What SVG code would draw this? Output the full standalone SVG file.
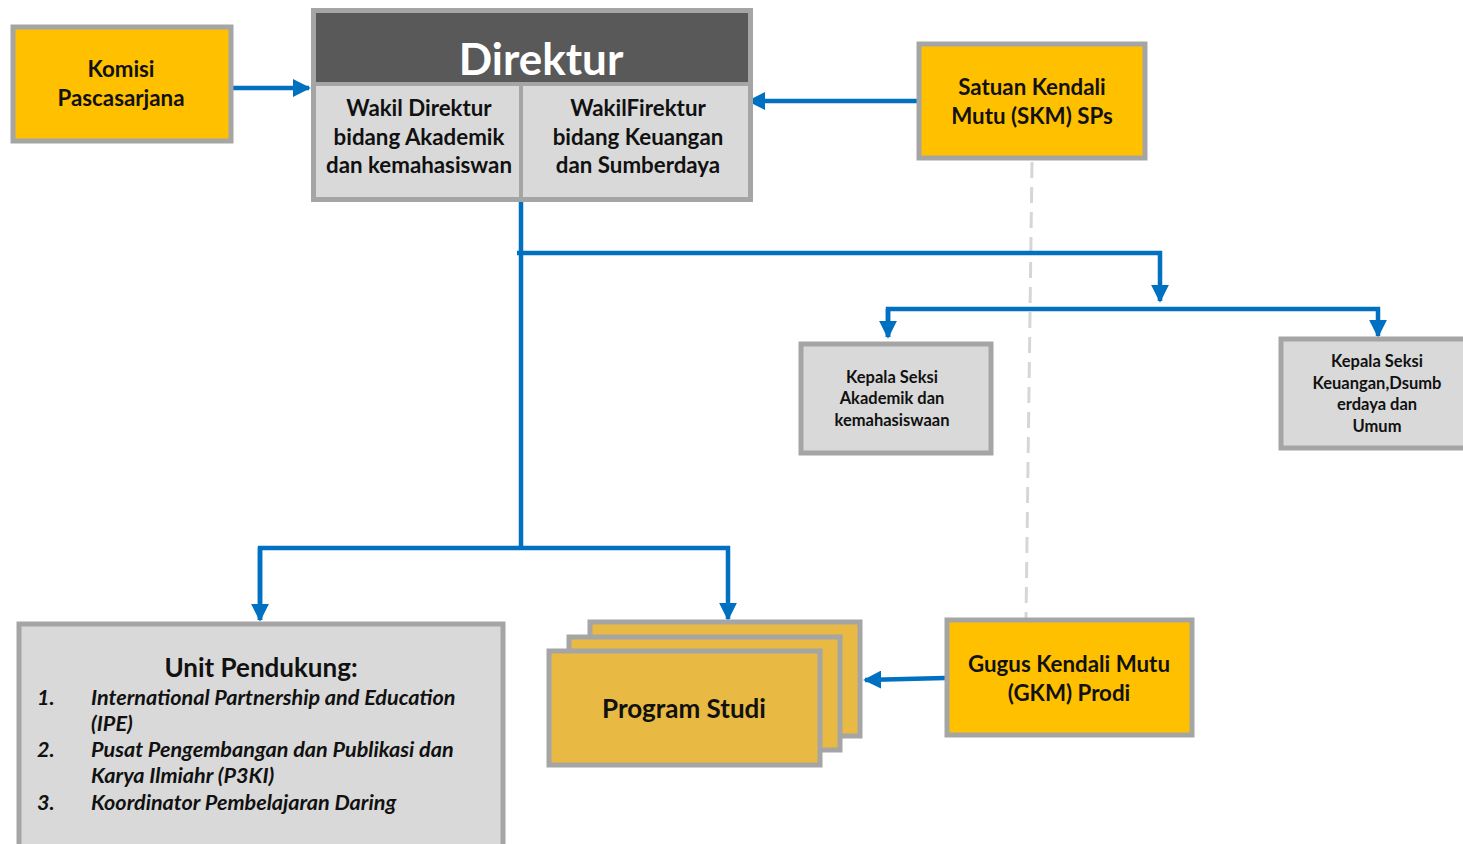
<svg xmlns="http://www.w3.org/2000/svg" width="1463" height="844" viewBox="0 0 1463 844">
<style>
text{font-family:Lato,"Open Sans","Liberation Sans",sans-serif;font-weight:bold;fill:#111;text-anchor:middle}
.box{stroke:#a5a5a5;stroke-width:5}
.gold{fill:#FFC000}
.grey{fill:#d9d9d9}
.ps{fill:#E8B943}
.conn{fill:none;stroke:#0070C0;stroke-width:4.5}
.dash{fill:none;stroke:#d6d6d6;stroke-width:3;stroke-dasharray:16 9}
.t20{font-size:22.3px}
.t21{font-size:22.3px}
.t15{font-size:16.5px}
.it{font-style:italic;font-size:21.6px;text-anchor:start}
</style>
<defs>
<marker id="ah" viewBox="0 0 10 10" refX="9" refY="5" markerWidth="4" markerHeight="4" orient="auto" markerUnits="strokeWidth">
<path d="M0,0 L10,5 L0,10 z" fill="#0070C0"/>
</marker>
</defs>
<rect width="1463" height="844" fill="#fff"/>

<g id="connectors">
<line class="dash" x1="1032" y1="162" x2="1026" y2="618"/>
<path class="conn" d="M232,88 H309" marker-end="url(#ah)"/>
<path class="conn" d="M917,101 H749" marker-end="url(#ah)"/>
<path class="conn" d="M521,199 V548"/>
<path class="conn" d="M517,253 H1160 V301" marker-end="url(#ah)"/>
<path class="conn" d="M888,337 V309 H1378 V336" marker-end="url(#ah)"/>
<path class="conn" d="M888,309 V337" marker-end="url(#ah)"/>
<path class="conn" d="M260,620 V548 H728 V619" marker-end="url(#ah)"/>
<path class="conn" d="M260,548 V620" marker-end="url(#ah)"/>
<path class="conn" d="M945,678 L865,680" marker-end="url(#ah)"/>
</g>

<g id="komisi">
<rect class="box gold" x="13" y="27" width="218" height="114"/>
<text class="t20" x="121" y="77">Komisi</text>
<text class="t20" x="121" y="106">Pascasarjana</text>
</g>

<g id="direktur">
<rect class="box grey" x="313.5" y="10.5" width="437" height="189"/>
<rect x="316" y="13" width="432" height="69" fill="#595959"/>
<line x1="316" y1="84" x2="748" y2="84" stroke="#a5a5a5" stroke-width="4"/>
<line x1="521" y1="84" x2="521" y2="198" stroke="#a5a5a5" stroke-width="4"/>
<text x="541" y="75" style="font-size:44px;fill:#fff">Direktur</text>
<text class="t21" x="419" y="116">Wakil Direktur</text>
<text class="t21" x="419" y="145">bidang Akademik</text>
<text class="t21" x="419" y="173">dan kemahasiswan</text>
<text class="t21" x="638" y="116">WakilFirektur</text>
<text class="t21" x="638" y="145">bidang Keuangan</text>
<text class="t21" x="638" y="173">dan Sumberdaya</text>
</g>

<g id="skm">
<rect class="box gold" x="919" y="44" width="226" height="114"/>
<text class="t20" x="1032" y="95">Satuan Kendali</text>
<text class="t20" x="1032" y="124">Mutu (SKM) SPs</text>
</g>

<g id="kasi-akademik">
<rect class="box grey" x="801" y="344" width="190" height="109"/>
<text class="t15" x="892" y="383">Kepala Seksi</text>
<text class="t15" x="892" y="404">Akademik dan</text>
<text class="t15" x="892" y="426">kemahasiswaan</text>
</g>

<g id="kasi-keuangan">
<rect class="box grey" x="1281" y="339" width="190" height="109"/>
<text class="t15" x="1377" y="367">Kepala Seksi</text>
<text class="t15" x="1377" y="389">Keuangan,Dsumb</text>
<text class="t15" x="1377" y="410">erdaya dan</text>
<text class="t15" x="1377" y="432">Umum</text>
</g>

<g id="unit-pendukung">
<rect class="box grey" x="19" y="624" width="484" height="230"/>
<text x="261" y="677" style="font-size:26px">Unit Pendukung:</text>
<text class="it" x="37" y="705">1.</text>
<text class="it" x="91" y="705">International Partnership and Education</text>
<text class="it" x="91" y="731">(IPE)</text>
<text class="it" x="37" y="757">2.</text>
<text class="it" x="91" y="757">Pusat Pengembangan dan Publikasi dan</text>
<text class="it" x="91" y="783">Karya Ilmiahr (P3KI)</text>
<text class="it" x="37" y="810">3.</text>
<text class="it" x="91" y="810">Koordinator Pembelajaran Daring</text>
</g>

<g id="program-studi">
<rect class="box ps" x="590" y="622" width="270" height="114"/>
<rect class="box ps" x="569" y="637" width="271" height="113"/>
<rect class="box ps" x="549" y="651" width="271" height="114"/>
<text x="684" y="718" style="font-size:26px">Program Studi</text>
</g>

<g id="gkm">
<rect class="box gold" x="947" y="620" width="245" height="115"/>
<text class="t20" x="1069" y="672">Gugus Kendali Mutu</text>
<text class="t20" x="1069" y="701">(GKM) Prodi</text>
</g>
</svg>
